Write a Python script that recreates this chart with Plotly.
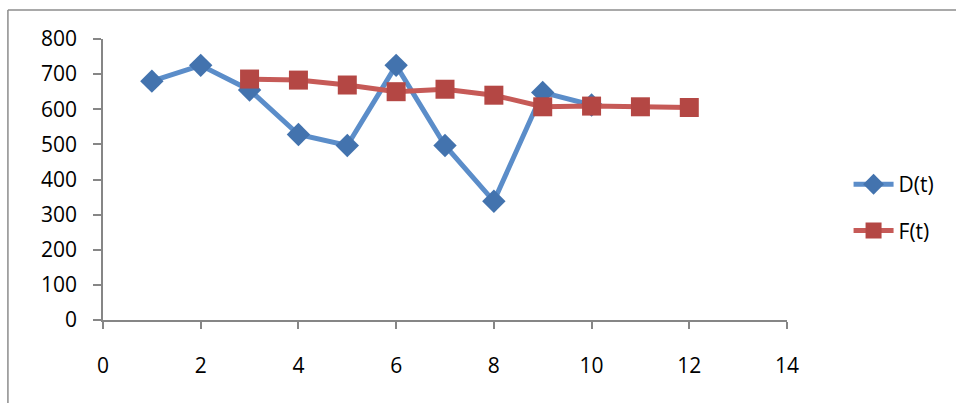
import plotly.graph_objects as go

# Period index and series values
t_demand = [1, 2, 3, 4, 5, 6, 7, 8, 9, 10]
demand = [680, 725, 655, 528, 497, 725, 497, 338, 648, 612]

t_forecast = [3, 4, 5, 6, 7, 8, 9, 10, 11, 12]
forecast = [686, 683, 669, 650, 657, 640, 607, 609, 607, 605]

x_ticks = [0, 2, 4, 6, 8, 10, 12, 14]
y_ticks = [0, 100, 200, 300, 400, 500, 600, 700, 800]

FONT = "Open Sans"
AXIS_GREY = "#868686"

fig = go.Figure()

fig.add_trace(go.Scatter(
    x=t_demand, y=demand, name="D(t)", mode="lines+markers",
    legendgroup="d",
    line=dict(color="#5B8DC9", width=5),
    marker=dict(symbol="diamond", size=18, color="#4373AE"),
))

fig.add_trace(go.Scatter(
    x=t_forecast, y=forecast, name="F(t)", mode="lines+markers",
    legendgroup="f",
    line=dict(color="#C65A57", width=5),
    marker=dict(symbol="square", size=19, color="#B44744"),
))

fig.update_layout(
    width=956, height=403,
    margin=dict(l=103, r=169, t=39, b=83),
    paper_bgcolor="white", plot_bgcolor="white",
    font=dict(family=FONT, size=21, color="black"),
    showlegend=True,
    legend=dict(
        x=1.09, y=0.40, xanchor="left", yanchor="middle",
        font=dict(family=FONT, size=21, color="black"),
        itemwidth=40, tracegroupgap=16,
        bgcolor="rgba(0,0,0,0)",
    ),
    xaxis=dict(
        range=[0, 14], tickvals=x_ticks, ticktext=[str(v) for v in x_ticks],
        showgrid=False, zeroline=False,
        showline=True, linecolor=AXIS_GREY, linewidth=1.5,
        ticks="outside", ticklen=7, tickcolor=AXIS_GREY, tickwidth=1.5,
        ticklabelstandoff=19,
        tickfont=dict(family=FONT, size=21, color="black"),
    ),
    yaxis=dict(
        range=[0, 800], tickvals=y_ticks, ticktext=[str(v) for v in y_ticks],
        showgrid=False, zeroline=False,
        showline=True, linecolor=AXIS_GREY, linewidth=1.5,
        ticks="outside", ticklen=8, tickcolor=AXIS_GREY, tickwidth=1.5,
        ticklabelstandoff=12,
        tickfont=dict(family=FONT, size=21, color="black"),
    ),
)

# Chart-area frame (top and left edges)
fig.add_shape(type="line", xref="paper", yref="paper",
              x0=-0.139, x1=1.3, y0=1.103, y1=1.103,
              line=dict(color="#8C8C8C", width=1.5))
fig.add_shape(type="line", xref="paper", yref="paper",
              x0=-0.139, x1=-0.139, y0=1.103, y1=-0.35,
              line=dict(color="#8C8C8C", width=1.5))

fig.write_html("out.html")
